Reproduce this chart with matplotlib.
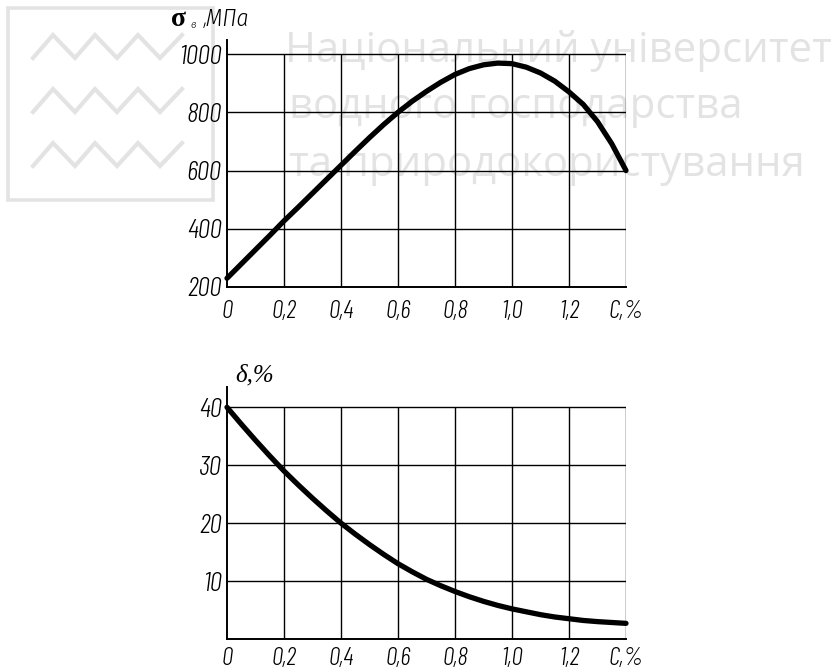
import matplotlib
matplotlib.use("Agg")
import matplotlib.pyplot as plt
from matplotlib.lines import Line2D
from matplotlib.patches import Rectangle

# ---------------- data ----------------
carbon = [0.0, 0.05, 0.1, 0.15, 0.2, 0.25, 0.3, 0.35, 0.4, 0.45, 0.5, 0.55, 0.6, 0.65,
          0.7, 0.75, 0.8, 0.85, 0.9, 0.95, 1.0, 1.05, 1.1, 1.15, 1.2, 1.25, 1.3, 1.35, 1.4]
strength = [230, 279, 328, 377, 427, 474, 522, 570, 618, 666, 713, 758, 800, 838,
            872, 903, 930, 950, 963, 969, 967, 955, 935, 907, 870, 827, 768, 692, 600]
elongation = [40, 37.1, 34.3, 31.6, 29.0, 26.6, 24.3, 22.1, 20.0, 18.1, 16.3, 14.6, 13.0, 11.6,
              10.3, 9.2, 8.2, 7.3, 6.5, 5.8, 5.2, 4.7, 4.2, 3.8, 3.5, 3.2, 3.0, 2.85, 2.7]

x_ticks = [0.0, 0.2, 0.4, 0.6, 0.8, 1.0, 1.2, 1.4]
x_tick_labels = ["0", "0,2", "0,4", "0,6", "0,8", "1,0", "1,2", "C,%"]
strength_ticks = [200, 400, 600, 800, 1000]
strength_tick_labels = ["200", "400", "600", "800", "1000"]
elong_ticks = [10, 20, 30, 40]
elong_tick_labels = ["10", "20", "30", "40"]

watermark_lines = ["Національний університет", "водного господарства", "та природокористування"]

# ---------------- figure ----------------
W, H = 835, 671
fig = plt.figure(figsize=(W / 100, H / 100), dpi=100)

TICK_FONT = dict(family=["Barlow Condensed", "Fira Sans Condensed", "DejaVu Sans"],
                 style="italic", weight=300, stretch="condensed")
WM_COLOR = "#e3e3e3"


def rect(l, r, t, b):
    return [l / W, 1 - b / H, (r - l) / W, (b - t) / H]


def px(x, y):
    return x / W, 1 - y / H


# ---- watermark (behind everything) ----
wm_baselines = [62, 118, 176]
wm_left = [285, 289, 289]
wm_texts = []
for txt, yb, xl in zip(watermark_lines, wm_baselines, wm_left):
    wm_texts.append(fig.text(*px(xl, yb), txt, fontsize=31, color=WM_COLOR,
                             family=["Open Sans", "Noto Sans", "DejaVu Sans"],
                             ha="left", va="baseline", zorder=-5))
# fit first line to its width in the reference (about 546 px)
renderer = fig.canvas.get_renderer()
w0 = wm_texts[0].get_window_extent(renderer).width
scale = 546.0 / w0
for t in wm_texts:
    t.set_fontsize(31 * scale)

fig.add_artist(Rectangle(px(8, 200), 205 / W, 192 / H, transform=fig.transFigure,
                         fill=False, edgecolor=WM_COLOR, lw=2.6, zorder=-5))
zig_x = [33, 53, 75, 95, 117, 138, 160, 182]
for dy in [0, 54, 108]:
    zig_y = [58 + dy if i % 2 == 0 else 35 + dy for i in range(len(zig_x))]
    fig.add_artist(Line2D([x / W for x in zig_x], [1 - y / H for y in zig_y],
                          transform=fig.transFigure, color=WM_COLOR, lw=3.0,
                          solid_joinstyle="miter", zorder=-5))


# ---- common styling ----
def style_axes(ax, ylim, yticks, ylabels, ybottom, ytop, xpad):
    ax.set_xlim(0, 1.4)
    ax.set_ylim(*ylim)
    ax.patch.set_alpha(0)
    for s in ["top", "right"]:
        ax.spines[s].set_visible(False)
    ax.spines["left"].set_linewidth(1.4)
    ax.spines["bottom"].set_linewidth(1.4)
    ax.set_xticks(x_ticks)
    ax.set_xticklabels(x_tick_labels, fontsize=18.5, **TICK_FONT)
    ax.set_yticks(yticks)
    ax.set_yticklabels(ylabels, fontsize=20, **TICK_FONT)
    ax.tick_params(axis="both", length=0)
    ax.tick_params(axis="x", pad=xpad)
    ax.tick_params(axis="y", pad=4)
    ax.hlines([t for t in yticks if t > ybottom], 0, 1.4, color="black", lw=1.0, zorder=1)
    ax.vlines(x_ticks[1:], ybottom, ytop, color="black", lw=1.0, zorder=1)


# ---- top: tensile strength ----
ax1 = fig.add_axes(rect(227, 626, 39.5, 287))
style_axes(ax1, (200, 1050), strength_ticks, strength_tick_labels, 200, 1000, 9.5)
ax1.plot(carbon, strength, color="black", lw=3.8, solid_capstyle="round",
         solid_joinstyle="round", clip_on=False, zorder=3)

fig.text(*px(171, 26), "σ", fontsize=20, fontweight="bold",
         family=["Liberation Serif", "DejaVu Serif"], ha="left", va="baseline")
fig.text(*px(190, 28), "в", fontsize=8, ha="left", va="baseline", **TICK_FONT)
fig.text(*px(203, 26), ",МПа", fontsize=17, ha="left", va="baseline", **TICK_FONT)

# ---- bottom: elongation ----
ax2 = fig.add_axes(rect(227, 626, 387, 639))
style_axes(ax2, (0, 43.5), elong_ticks, elong_tick_labels, 0, 40, 5.5)
ax2.plot(carbon, elongation, color="black", lw=3.8, solid_capstyle="round",
         solid_joinstyle="round", clip_on=False, zorder=3)

fig.text(*px(235, 381), "δ,%", fontsize=18, style="italic",
         family=["Liberation Serif", "DejaVu Serif"], ha="left", va="baseline")

fig.savefig("out.png", dpi=100, facecolor="white")
